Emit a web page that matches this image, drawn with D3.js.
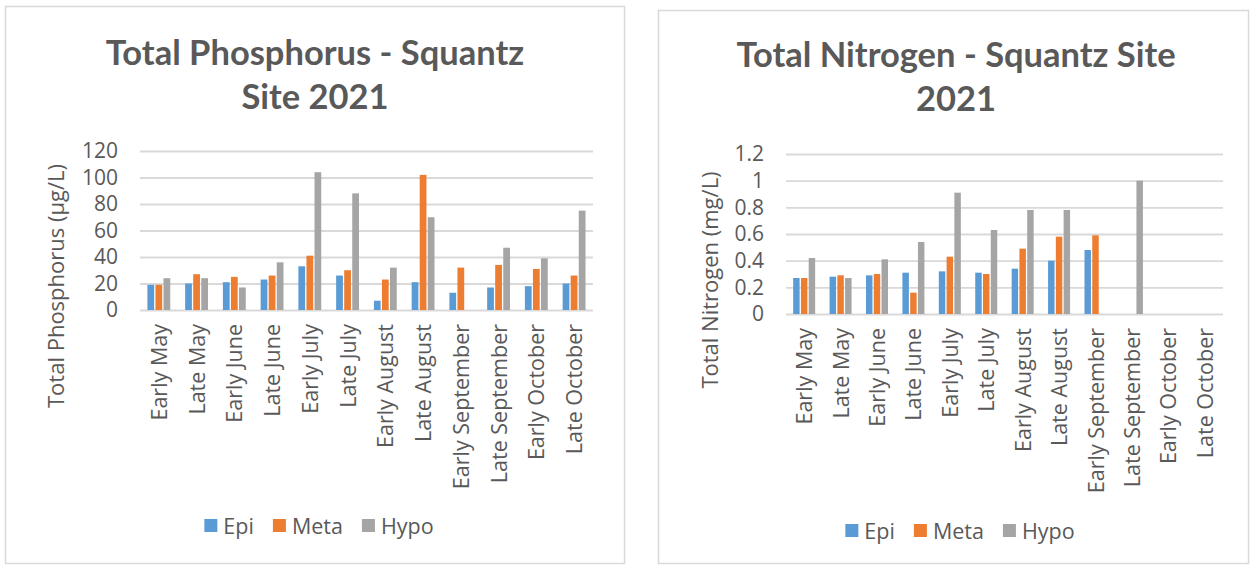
<!DOCTYPE html>
<html>
<head>
<meta charset="utf-8">
<script src="https://cdn.jsdelivr.net/npm/d3@7"></script>
<style>
  html, body { margin: 0; padding: 0; background: #fff; }
  svg { display: block; }
</style>
</head>
<body>
<div id="chart"></div>
<script>
var categories = ['Early May', 'Late May', 'Early June', 'Late June', 'Early July', 'Late July',
  'Early August', 'Late August', 'Early September', 'Late September', 'Early October', 'Late October'];
var seriesNames = ['Epi', 'Meta', 'Hypo'];

var phosEpi  = [19, 20, 21, 23, 33, 26, 7, 21, 13, 17, 18, 20];
var phosMeta = [19, 27, 25, 26, 41, 30, 23, 102, 32, 34, 31, 26];
var phosHypo = [24, 24, 17, 36, 104, 88, 32, 70, null, 47, 39, 75];
var phosTicks = [0, 20, 40, 60, 80, 100, 120];

var nitroEpi  = [0.27, 0.28, 0.29, 0.31, 0.32, 0.31, 0.34, 0.40, 0.48, null, null, null];
var nitroMeta = [0.27, 0.29, 0.30, 0.16, 0.43, 0.30, 0.49, 0.58, 0.59, null, null, null];
var nitroHypo = [0.42, 0.27, 0.41, 0.54, 0.91, 0.63, 0.78, 0.78, null, 1.0, null, null];
var nitroTicks = [0, 0.2, 0.4, 0.6, 0.8, 1, 1.2];

(function(d3) {

  'use strict';

  var colors = { Epi: '#5b9bd5', Meta: '#ed7d31', Hypo: '#a5a5a5' };
  var textColor = '#595959';
  var gridColor = '#d9d9d9';
  var bodyFont = '"Open Sans", "Noto Sans", sans-serif';
  var titleFont = 'Lato, "Open Sans", sans-serif';

  var svg = d3.select('#chart')
    .append('svg')
    .attr('width', 1250)
    .attr('height', 565);

  var Chart = function(options) {
    this.o = options;
    this.g = svg.append('g');
  };

  Chart.prototype = {

    init: function() {
      this.setFrame();
      this.setTitle();
      this.setScales();
      this.setGrid();
      this.setBars();
      this.setCategoryLabels();
      this.setYTitle();
      this.setLegend();
    },

    setFrame: function() {
      var f = this.o.frame;
      this.g.append('rect')
        .attr('x', f.x + 0.5).attr('y', f.y + 0.5)
        .attr('width', f.w).attr('height', f.h)
        .style('fill', '#fff')
        .style('stroke', gridColor)
        .style('stroke-width', 1.5);
    },

    setTitle: function() {
      var t = this.o.title;
      this.g.append('text')
        .attr('x', t.x).attr('y', t.y)
        .attr('text-anchor', 'middle')
        .style('font-family', titleFont)
        .style('font-weight', 700)
        .style('font-size', '34.5px')
        .style('fill', textColor)
        .selectAll('tspan')
        .data(t.lines)
        .enter()
        .append('tspan')
        .attr('x', t.x)
        .attr('dy', function(d, i) { return i === 0 ? 0 : 44; })
        .text(function(d) { return d; });
    },

    setScales: function() {
      var p = this.o.plot;
      this.x0 = d3.scaleBand()
        .domain(categories)
        .range([p.left, p.right])
        .paddingInner(0.36)
        .paddingOuter(0.18);
      this.x1 = d3.scaleBand()
        .domain(seriesNames)
        .range([0, this.x0.bandwidth()]);
      this.y = d3.scaleLinear()
        .domain([0, this.o.ticks[this.o.ticks.length - 1]])
        .range([p.bottom, p.top]);
    },

    setGrid: function() {
      var p = this.o.plot;
      var axis = d3.axisLeft(this.y)
        .tickValues(this.o.ticks)
        .tickSize(-(p.right - p.left))
        .tickPadding(22)
        .tickFormat(d3.format('~g'));

      var ax = this.g.append('g')
        .attr('transform', 'translate(' + p.left + ',0)')
        .call(axis);

      ax.select('.domain').remove();
      ax.selectAll('.tick line')
        .style('stroke', gridColor)
        .style('stroke-width', 1.8);
      ax.selectAll('.tick text')
        .style('font-family', bodyFont)
        .style('font-size', '21px')
        .style('fill', textColor);
    },

    setBars: function() {
      var self = this;
      var rows = categories.map(function(c, i) {
        return seriesNames.map(function(s) {
          return { cat: c, key: s, value: self.o.values[s][i] };
        });
      });

      this.g.append('g')
        .selectAll('g')
        .data(rows)
        .enter()
        .append('g')
        .attr('transform', function(d) { return 'translate(' + self.x0(d[0].cat) + ',0)'; })
        .selectAll('rect')
        .data(function(d) { return d.filter(function(v) { return v.value != null; }); })
        .enter()
        .append('rect')
        .attr('x', function(d) { return self.x1(d.key) + 0.6; })
        .attr('y', function(d) { return self.y(d.value); })
        .attr('width', self.x1.bandwidth() - 1.3)
        .attr('height', function(d) { return self.y(0) - self.y(d.value); })
        .style('fill', function(d) { return colors[d.key]; });
    },

    setCategoryLabels: function() {
      var self = this;
      var p = this.o.plot;
      this.g.append('g')
        .selectAll('text')
        .data(categories)
        .enter()
        .append('text')
        .attr('transform', function(d) {
          return 'translate(' + (self.x0(d) + self.x0.bandwidth() / 2 + 8) + ',' + (p.bottom + 14) + ') rotate(-90)';
        })
        .attr('text-anchor', 'end')
        .style('font-family', bodyFont)
        .style('font-size', '21.5px')
        .style('fill', textColor)
        .text(function(d) { return d; });
    },

    setYTitle: function() {
      var t = this.o.yTitle;
      this.g.append('text')
        .attr('transform', 'translate(' + t.x + ',' + t.y + ') rotate(-90)')
        .attr('text-anchor', 'middle')
        .style('font-family', bodyFont)
        .style('font-size', '22px')
        .style('fill', textColor)
        .text(t.text);
    },

    setLegend: function() {
      var l = this.o.legend;
      var leg = this.g.append('g');
      var items = leg.selectAll('g')
        .data(seriesNames)
        .enter()
        .append('g');

      items.append('rect')
        .attr('width', 13).attr('height', 13)
        .attr('y', -7)
        .style('fill', function(d) { return colors[d]; });

      items.append('text')
        .attr('x', 19)
        .attr('y', 7.5)
        .style('font-family', bodyFont)
        .style('font-size', '21.5px')
        .style('fill', textColor)
        .text(function(d) { return d; });

      var xpos = 0;
      items.each(function() {
        var w = this.getBBox().width;
        d3.select(this).attr('transform', 'translate(' + xpos + ',0)');
        xpos += w + 19;
      });
      var total = xpos - 19;
      leg.attr('transform', 'translate(' + (l.cx - total / 2) + ',' + l.y + ')');
    }

  };

  new Chart({
    frame: { x: 5, y: 6, w: 619, h: 557 },
    title: { x: 315, y: 65, lines: ['Total Phosphorus - Squantz', 'Site 2021'] },
    plot: { left: 140, right: 593, top: 151, bottom: 310 },
    ticks: phosTicks,
    values: { Epi: phosEpi, Meta: phosMeta, Hypo: phosHypo },
    yTitle: { x: 64, y: 286, text: 'Total Phosphorus (\u00b5g/L)' },
    legend: { cx: 319, y: 526 }
  }).init();

  new Chart({
    frame: { x: 658, y: 10, w: 590, h: 553 },
    title: { x: 956, y: 67, lines: ['Total Nitrogen - Squantz Site', '2021'] },
    plot: { left: 786, right: 1223, top: 154, bottom: 314 },
    ticks: nitroTicks,
    values: { Epi: nitroEpi, Meta: nitroMeta, Hypo: nitroHypo },
    yTitle: { x: 718, y: 280, text: 'Total Nitrogen (mg/L)' },
    legend: { cx: 960, y: 531 }
  }).init();

})(d3);
</script>
</body>
</html>
